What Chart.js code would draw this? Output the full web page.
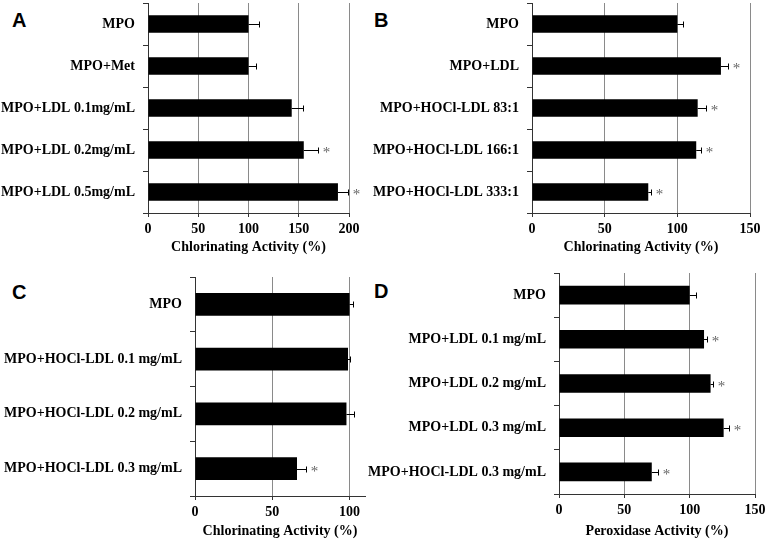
<!DOCTYPE html>
<html>
<head>
<meta charset="utf-8">
<script src="https://cdn.jsdelivr.net/npm/chart.js@4.4.1/dist/chart.umd.min.js"></script>
<style>
body { margin: 0; background: #fff; width: 766px; height: 542px; position: relative; overflow: hidden; }
canvas { position: absolute; }
.letter { position: absolute; font: bold 20px "Liberation Sans", Arial, sans-serif; color: #000; line-height: 20px; }
</style>
</head>
<body>
<div class="letter" style="left:12px;top:10px">A</div>
<div class="letter" style="left:374px;top:10px">B</div>
<div class="letter" style="left:12px;top:282px">C</div>
<div class="letter" style="left:374px;top:281px">D</div>
<canvas id="chartA" width="383" height="270" style="left:0;top:0"></canvas>
<canvas id="chartB" width="436" height="270" style="left:330px;top:0"></canvas>
<canvas id="chartC" width="383" height="272" style="left:0;top:270px"></canvas>
<canvas id="chartD" width="436" height="272" style="left:330px;top:270px"></canvas>
<script>
// panel A
const labelsA = ['MPO', 'MPO+Met', 'MPO+LDL 0.1mg/mL', 'MPO+LDL 0.2mg/mL', 'MPO+LDL 0.5mg/mL'];
const valuesA = [100, 100, 143, 155, 189];
const errorsA = [10, 7, 11, 14, 10];
const starsA = [false, false, false, true, true];
const ticksA = [0, 50, 100, 150, 200];

// panel B
const labelsB = ['MPO', 'MPO+LDL', 'MPO+HOCl-LDL 83:1', 'MPO+HOCl-LDL 166:1', 'MPO+HOCl-LDL 333:1'];
const valuesB = [100, 130, 114, 113, 80];
const errorsB = [4, 5, 6, 3, 2];
const starsB = [false, true, true, true, true];
const ticksB = [0, 50, 100, 150];

// panel C
const labelsC = ['MPO', 'MPO+HOCl-LDL 0.1 mg/mL', 'MPO+HOCl-LDL 0.2 mg/mL', 'MPO+HOCl-LDL 0.3 mg/mL'];
const valuesC = [100, 99, 98, 66];
const errorsC = [2, 1, 5, 6];
const starsC = [false, false, false, true];
const ticksC = [0, 50, 100];

// panel D
const labelsD = ['MPO', 'MPO+LDL 0.1 mg/mL', 'MPO+LDL 0.2 mg/mL', 'MPO+LDL 0.3 mg/mL', 'MPO+HOCl-LDL 0.3 mg/mL'];
const valuesD = [100, 111, 116, 126, 71];
const errorsD = [5, 2, 2, 4, 5];
const starsD = [false, true, true, true, true];
const ticksD = [0, 50, 100, 150];

Chart.defaults.font.family = '"Liberation Serif", "Times New Roman", serif';
Chart.defaults.font.weight = 'bold';
Chart.defaults.font.size = 14;
Chart.defaults.color = '#000';
Chart.defaults.animation = false;

// error bars and asterisks
const errorBars = {
    id: 'errorBars',
    afterDatasetsDraw(chart) {
        const ds = chart.data.datasets[0];
        const meta = chart.getDatasetMeta(0);
        const xs = chart.scales.x;
        const ctx = chart.ctx;
        ctx.save();
        meta.data.forEach((bar, i) => {
            const x0 = xs.getPixelForValue(ds.data[i]);
            const x1 = Math.round(xs.getPixelForValue(ds.data[i] + ds.errors[i])) + 0.5;
            const y = Math.round(bar.y) + 0.5;
            ctx.strokeStyle = '#000';
            ctx.lineWidth = 1;
            ctx.beginPath();
            ctx.moveTo(x0, y);
            ctx.lineTo(x1, y);
            ctx.moveTo(x1, y - 3);
            ctx.lineTo(x1, y + 3);
            ctx.stroke();
            if (ds.stars[i]) {
                ctx.fillStyle = '#666';
                ctx.font = '15px "Liberation Serif", serif';
                ctx.textAlign = 'center';
                ctx.textBaseline = 'middle';
                ctx.fillText('*', x1 + 8, y + 3);
            }
        });
        ctx.restore();
    }
};

function makeChart(id, labels, values, errors, stars, tickValues, max, title, g) {
    return new Chart(document.getElementById(id), {
        type: 'bar',
        data: {
            labels: labels,
            datasets: [{
                data: values,
                errors: errors,
                stars: stars,
                backgroundColor: '#000',
                borderWidth: 0,
                categoryPercentage: 1,
                barPercentage: 0.42
            }]
        },
        options: {
            indexAxis: 'y',
            responsive: false,
            layout: { padding: { top: g.top, right: g.right, left: 0, bottom: 0 } },
            plugins: { legend: { display: false }, tooltip: { enabled: false } },
            scales: {
                x: {
                    min: 0,
                    max: max,
                    afterBuildTicks: (s) => { s.ticks = tickValues.map(v => ({ value: v })); },
                    afterFit: (s) => { s.height = g.xHeight; s.paddingLeft = 0; s.paddingRight = 0; },
                    grid: { color: '#8a8a8a', tickColor: '#333', tickLength: 4 },
                    border: { color: '#333' },
                    ticks: { padding: g.tickPad, font: { size: 14 } },
                    title: { display: true, text: title, font: { size: 14 }, padding: { top: 0, bottom: g.titlePad } }
                },
                y: {
                    afterFit: (s) => { s.width = g.yWidth; s.paddingTop = 0; s.paddingBottom = 0; },
                    grid: { drawOnChartArea: false, color: '#333', tickLength: 5 },
                    border: { color: '#333' },
                    ticks: { padding: 8, font: { size: 14 } }
                }
            }
        },
        plugins: [errorBars]
    });
}

makeChart('chartA', labelsA, valuesA, errorsA, starsA, ticksA, 200, 'Chlorinating Activity (%)',
    { yWidth: 148, top: 3, right: 34, xHeight: 57, tickPad: 4, titlePad: 14 });
makeChart('chartB', labelsB, valuesB, errorsB, starsB, ticksB, 150, 'Chlorinating Activity (%)',
    { yWidth: 202, top: 3, right: 16, xHeight: 57, tickPad: 4, titlePad: 14 });
makeChart('chartC', labelsC, valuesC, errorsC, starsC, ticksC, 110, 'Chlorinating Activity (%)',
    { yWidth: 195, top: 7, right: 18, xHeight: 46, tickPad: 4, titlePad: 2 });
makeChart('chartD', labelsD, valuesD, errorsD, starsD, ticksD, 150, 'Peroxidase Activity (%)',
    { yWidth: 229, top: 3, right: 11, xHeight: 48, tickPad: 4, titlePad: 2 });
</script>
</body>
</html>
